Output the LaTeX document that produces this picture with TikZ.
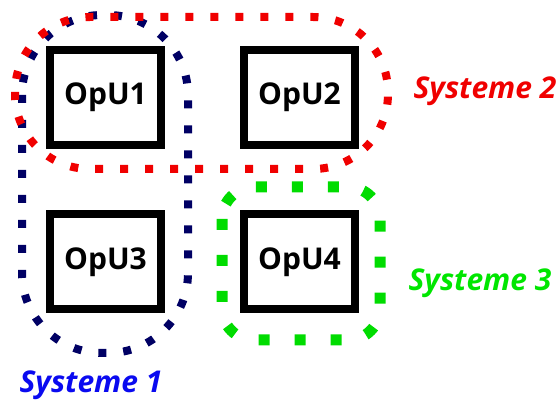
\documentclass[tikz,border=0pt]{standalone}
\usepackage{fontspec}
\setmainfont{Open Sans}
\definecolor{sysblue}{RGB}{0,0,100}
\definecolor{sysred}{RGB}{240,0,0}
\definecolor{sysgreen}{RGB}{0,220,0}
\definecolor{lblblue}{RGB}{10,10,240}
\definecolor{lblgreen}{RGB}{0,230,0}
\begin{document}
\begin{tikzpicture}[x=1pt,y=-1pt,
  opu/.style={draw,line width=8pt,minimum width=111pt,minimum height=95pt,inner sep=0pt,font=\fontsize{30}{36}\selectfont\bfseries},
  grp/.style={line width=8pt,dash pattern=on 8pt off 17pt},
  lbl/.style={font=\fontsize{30}{36}\selectfont\bfseries\itshape,inner sep=0pt}]
  \useasboundingbox (0,0) rectangle (558,403);
  % groups
  \draw[grp,sysblue,rounded corners=80pt] (22,15) rectangle (188,353);
  \draw[grp,sysred,rounded corners=75pt] (15,17) rectangle (388,169);
  \draw[sysgreen,line width=11pt,dash pattern=on 11pt off 25pt,rounded corners=32pt] (222,187) rectangle (380,340);
  % units
  \node[opu] (u1) at (105.5,97.5){OpU1};
  \node[opu] (u2) at (299.5,97.5){OpU2};
  \node[opu] (u3) at (105.5,262){OpU3};
  \node[opu] (u4) at (299.5,262){OpU4};
  % labels
  \node[lbl,text=sysred] (s2) at (485,91){Systeme 2};
  \node[lbl,text=lblgreen] (s3) at (480,283){Systeme 3};
  \node[lbl,text=lblblue] (s1) at (91,385){Systeme 1};
\end{tikzpicture}
\end{document}
